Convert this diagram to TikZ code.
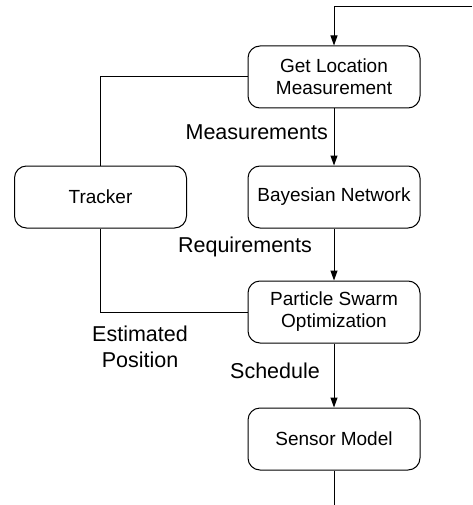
\documentclass[tikz,border=0pt]{standalone}
\usepackage{fontspec}
\setmainfont{Liberation Sans}
\usetikzlibrary{arrows.meta}
\begin{document}
\begin{tikzpicture}[x=1pt,y=-1pt,
  box/.style={draw, line width=1pt, rounded corners=12pt, minimum width=172pt, minimum height=62pt, inner sep=0pt, align=center, font=\fontsize{19}{22}\selectfont},
  lbl/.style={inner sep=0pt, align=center, font=\fontsize{21.5}{26}\selectfont},
  conn/.style={line width=1pt},
  arr/.style={conn, -{Triangle[length=10pt,width=7pt]}}]
\useasboundingbox (0,0) rectangle (472,505);
\node[box] (glm) at (334,77) {Get Location\\Measurement};
\node[box] (bn) at (334,197) {Bayesian Network};
\node[box] (tr) at (100.5,197) {Tracker};
\node[box] (pso) at (334,312) {Particle Swarm\\Optimization};
\node[box] (sm) at (334,439) {Sensor Model};
\coordinate (tin) at (472,7);
\coordinate (bout) at (334,505);
\draw[arr] (tin) -| (glm.north);
\draw[arr] (glm) -- (bn);
\draw[arr] (bn) -- (pso);
\draw[arr] (pso) -- (sm);
\draw[conn] (glm.west) -| (tr.north);
\draw[conn] (tr.south) |- (pso.west);
\draw[conn] (sm.south) -- (bout);
\node[lbl, anchor=east] (lm) at (328,132) {Measurements};
\node[lbl] (lr) at (245,247) {Requirements};
\node[lbl] (le) at (140,347) {Estimated\\Position};
\node[lbl] (ls) at (275,371) {Schedule};
\end{tikzpicture}
\end{document}
